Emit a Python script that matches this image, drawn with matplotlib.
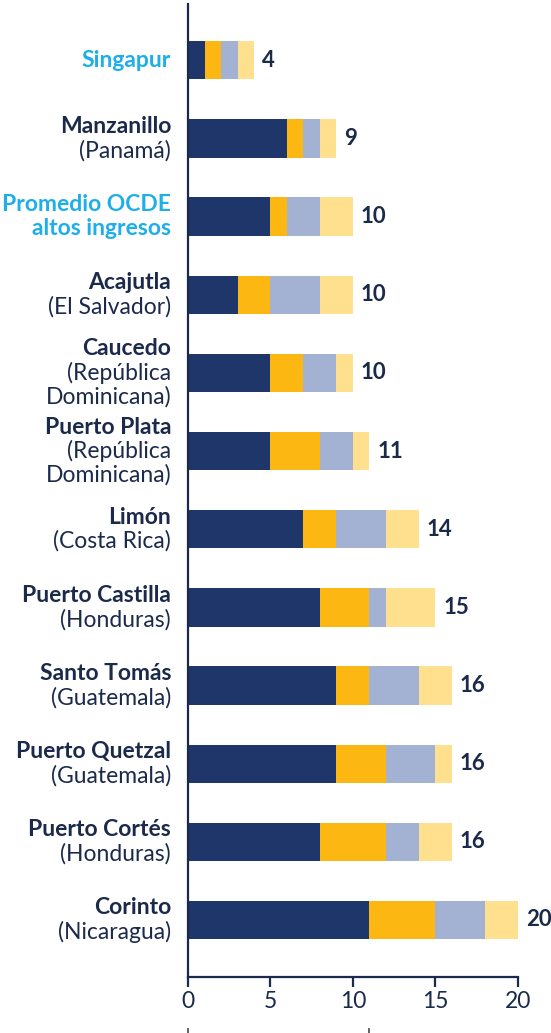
import matplotlib
matplotlib.use("Agg")
import matplotlib.pyplot as plt
from matplotlib.lines import Line2D

plt.rcParams['font.family'] = ['Lato', 'DejaVu Sans']

# port names (bold line) and country (regular lines)
names = ["Singapur", "Manzanillo", "Promedio OCDE\naltos ingresos", "Acajutla", "Caucedo",
         "Puerto Plata", "Limón", "Puerto Castilla", "Santo Tomás", "Puerto Quetzal",
         "Puerto Cortés", "Corinto"]
countries = ["", "(Panamá)", "", "(El Salvador)", "(República\nDominicana)",
             "(República\nDominicana)", "(Costa Rica)", "(Honduras)", "(Guatemala)",
             "(Guatemala)", "(Honduras)", "(Nicaragua)"]
highlight = [True, False, True, False, False, False, False, False, False, False, False, False]

seg1 = [1, 6, 5, 3, 5, 5, 7, 8, 9, 9, 8, 11]
seg2 = [1, 1, 1, 2, 2, 3, 2, 3, 2, 3, 4, 4]
seg3 = [1, 1, 2, 3, 2, 2, 3, 1, 3, 3, 2, 3]
seg4 = [1, 1, 2, 2, 1, 1, 2, 3, 2, 1, 2, 2]
totals = [4, 9, 10, 10, 10, 11, 14, 15, 16, 16, 16, 20]

colors = ["#1f366b", "#fdb713", "#a3b1d3", "#fee08f"]
navy = "#1b2a4a"
cyan = "#1eaee8"

fig = plt.figure(figsize=(5.51, 10.33), dpi=100)
ax = fig.add_axes([0.3412, 0.0542, 0.5989, 0.9419])

y = list(range(len(names)))
left = [0] * len(y)
for seg, c in zip([seg1, seg2, seg3, seg4], colors):
    ax.barh(y, seg, left=left, height=0.49, color=c, linewidth=0)
    left = [l + s for l, s in zip(left, seg)]

ax.set_ylim(11.73, -0.72)
ax.set_xlim(0, 20)
ax.set_xticks([0, 5, 10, 15, 20])
ax.set_yticks([])
for s in ["top", "right"]:
    ax.spines[s].set_visible(False)
for s in ["left", "bottom"]:
    ax.spines[s].set_color(navy)
    ax.spines[s].set_linewidth(1.6)
ax.tick_params(axis="x", length=7, width=1.6, color=navy, labelcolor=navy,
               labelsize=16.5, pad=3)

# category labels
L = 24
for i, (nm, ct, hl) in enumerate(zip(names, countries, highlight)):
    lines = [(t, "bold") for t in nm.split("\n")]
    if ct:
        lines += [(t, "normal") for t in ct.split("\n")]
    n = len(lines)
    for k, (txt, w) in enumerate(lines):
        off = -((k - (n - 1) / 2) * L)
        ax.annotate(txt, xy=(0, i), xycoords=("axes fraction", "data"),
                    xytext=(-17, off), textcoords="offset pixels",
                    ha="right", va="center", fontsize=16.5, fontweight=w,
                    color=cyan if hl else navy, annotation_clip=False)

# value labels
for i, t in enumerate(totals):
    ax.annotate(str(t), xy=(t, i), xytext=(8, 0), textcoords="offset pixels",
                ha="left", va="center", fontsize=16, fontweight="bold",
                color=navy, annotation_clip=False)

# bracket under 0-11
tr = ax.get_xaxis_transform()
yb_top, yb_bot = -0.053, -0.066
bx = [0, 0, 5.4, 5.5, 5.6, 11, 11]
by = [yb_top, yb_bot, yb_bot, yb_bot - 0.006, yb_bot, yb_bot, yb_top]
ax.add_line(Line2D(bx, by, transform=tr, color="#555555", lw=1.3, clip_on=False))

fig.savefig("out.png", dpi=100)
